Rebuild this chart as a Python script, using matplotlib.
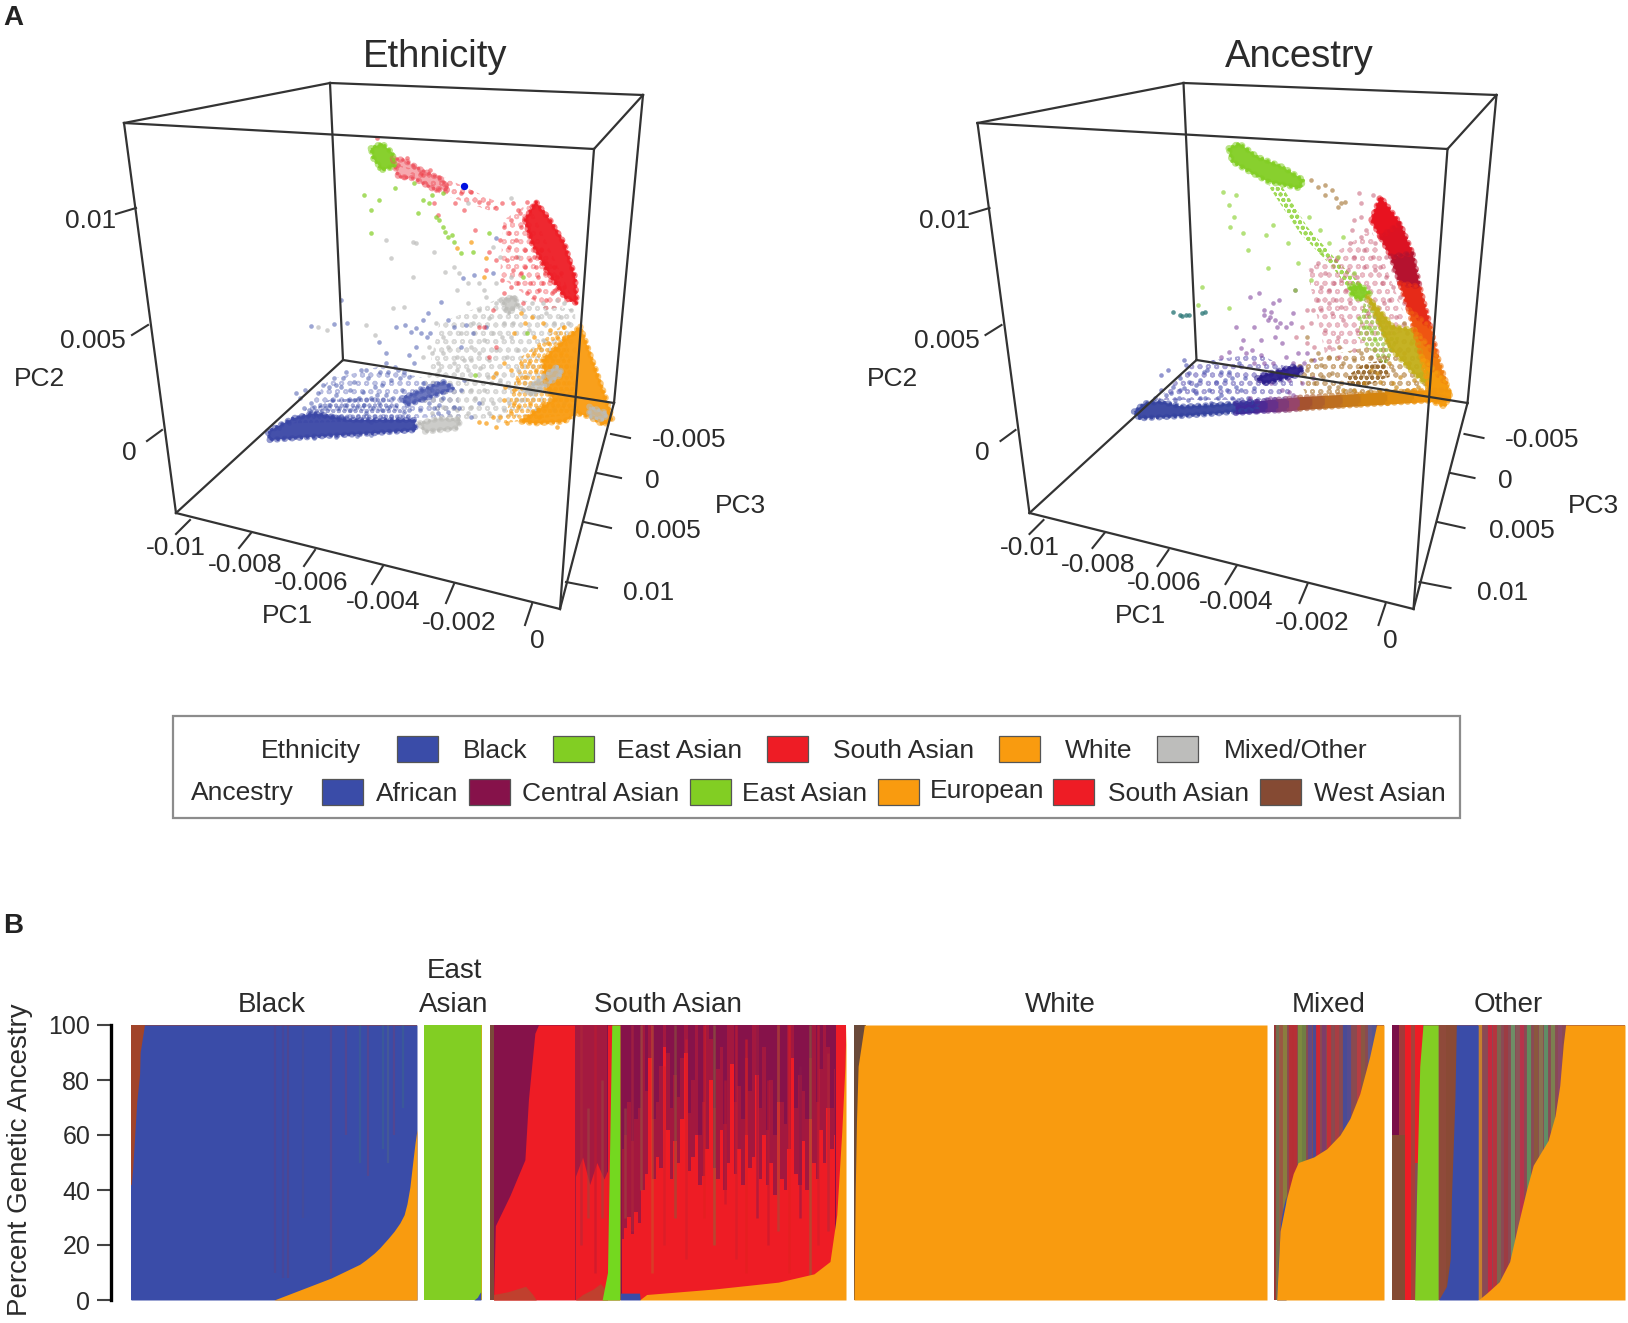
#!/usr/bin/env python
import numpy as np
import matplotlib
matplotlib.use('Agg')
import matplotlib.pyplot as plt
from matplotlib.patches import Rectangle

plt.rcParams['font.family'] = ['Liberation Sans', 'DejaVu Sans']
plt.rcParams['hatch.linewidth'] = 1.3

BLUE = '#3A4CA8'; MAROON = '#86124A'; GREEN = '#82CE23'
ORANGE = '#F99B0F'; RED = '#EE1C25'; BROWN = '#854A33'; GRAY = '#BDBDBB'
TXT = '#2b2b2b'; LINE = '#333333'
FS = 19

# ---- panel A, box and ticks (picture pixels of the left panel)
box_x = dict(A=124, B=330, C=643, D=594, E=176, F=343, G=614, H=560)
box_y = dict(A=123, B=83, C=95, D=149, E=513, F=360, G=403, H=609)
box_edges = ['AB', 'BC', 'CD', 'DA', 'AE', 'BF', 'CG', 'DH', 'EF', 'FG', 'GH', 'HE']

pc1_ticks = [(190, 520, 176, 534), (251, 533, 239, 548), (315, 550, 304, 566),
             (383, 566, 372, 584), (454, 584, 446, 603), (532, 604, 525, 625)]
pc1_labels = ['-0.01', '-0.008', '-0.006', '-0.004', '-0.002', '0']
pc1_lab_x = [176, 245, 311, 383, 459, 537]
pc1_lab_y = [548, 565, 583, 602, 623, 641]
pc2_ticks = [(136, 208, 116, 214), (148, 325, 132, 335), (162, 430, 147, 441)]
pc2_labels = ['0.01', '0.005', '0']
pc2_lab_x = [91, 93, 129]
pc2_lab_y = [221, 341, 453]
pc3_ticks = [(611, 434, 630, 438), (597, 473, 621, 478), (584, 522, 611, 528), (566, 582, 597, 588)]
pc3_labels = ['-0.005', '0', '0.005', '0.01']
pc3_lab_x = [689, 652, 668, 649]
pc3_lab_y = [440, 481, 531, 593]

# ---- ethnicity cloud (projected plot position)
eth_blue_mass = [(470, 1085), (540, 1045), (600, 1030), (700, 1050), (880, 1050), (885, 1080),
                 (760, 1090), (600, 1100), (475, 1110)]
eth_blue_streak = [(845, 985), (960, 935), (990, 955), (940, 975), (860, 1005)]
eth_red_mass = [(1190, 450), (1220, 395), (1260, 450), (1300, 520), (1330, 620), (1335, 700),
                (1300, 680), (1250, 600), (1210, 520)]
eth_red_haze = [(820, 265), (850, 270), (900, 300), (960, 330), (975, 360), (930, 355), (880, 325), (835, 320)]
eth_green_mass = [(758, 235), (790, 220), (820, 250), (825, 290), (790, 300), (765, 265)]
eth_orange_mass = [(1345, 770), (1375, 860), (1415, 980), (1435, 1045), (1410, 1065), (1370, 1040),
                   (1335, 1030), (1300, 1055), (1220, 1060), (1180, 1055), (1210, 1030), (1270, 990),
                   (1250, 950), (1240, 870), (1300, 810)]
eth_gray_masses = [[(1125, 690), (1160, 680), (1170, 705), (1145, 730)],
                   [(895, 1060), (950, 1045), (1010, 1050), (1000, 1075), (910, 1085)],
                   [(1370, 1010), (1420, 1030), (1410, 1050), (1370, 1040)],
                   [(1190, 960), (1280, 890), (1295, 910), (1210, 975)]]
# loosely filled parts of the cloud, drawn stippled
eth_hazes = [([(560, 1040), (640, 930), (780, 890), (1000, 950), (1010, 1040), (700, 1050)], '#5a66b8', 0.4, 'oo'),
             ([(540, 1060), (640, 990), (800, 980), (880, 1050)], '#3a46a6', 0.45, 'ooo'),
             ([(950, 760), (1130, 680), (1330, 720), (1340, 1030), (1000, 1050), (900, 1000)], GRAY, 0.55, 'oo'),
             ([(1130, 450), (1200, 400), (1330, 700), (1250, 720), (1120, 620)], RED, 0.3, 'oo'),
             ([(1130, 1060), (1180, 860), (1300, 760), (1340, 1030)], ORANGE, 0.55, 'ooo'),
             ([(835, 285), (960, 320), (1120, 400), (1100, 425), (950, 370)], RED, 0.35, 'oo')]
eth_blue = [(560, 985), (575, 960), (590, 1000), (610, 970), (625, 945), (640, 1005), (655, 925), (660, 975),
            (675, 950), (690, 905), (695, 990), (710, 935), (720, 1010), (730, 900), (735, 965), (750, 925),
            (760, 985), (770, 950), (785, 905), (790, 1020), (800, 975), (815, 930), (825, 890), (830, 1005),
            (845, 960), (855, 995), (865, 920), (880, 975), (895, 1020), (905, 940), (920, 1000), (930, 960),
            (945, 1030), (960, 985), (975, 945), (990, 1010), (1010, 960), (1020, 930), (1040, 1040), (1060, 1000),
            (590, 768), (655, 762), (675, 690), (692, 760), (780, 815), (800, 850), (830, 770), (855, 765),
            (870, 785), (885, 775), (900, 790), (915, 800), (905, 750), (918, 730), (925, 790), (885, 830),
            (865, 855), (955, 695), (975, 750), (990, 770), (1015, 625), (1048, 615), (1025, 765), (1045, 790),
            (1010, 830), (1080, 770), (1110, 505), (1100, 610), (880, 880), (800, 880), (835, 900),
            (500, 1075), (530, 1060), (560, 1040), (590, 1025), (620, 1030), (650, 1040), (680, 1045),
            (720, 1050), (760, 1055), (800, 1050), (840, 1050), (870, 1050), (600, 1105), (660, 1100),
            (720, 1098), (760, 1095), (550, 970), (600, 1010), (650, 990), (700, 1020), (745, 1030), (780, 1000),
            (570, 1015), (585, 1020), (615, 1005), (630, 1015), (670, 1015), (685, 1005), (710, 990), (725, 985),
            (740, 1005), (765, 1015), (775, 975), (810, 1010), (820, 985), (850, 1025), (865, 1020), (790, 945),
            (805, 905), (840, 925), (850, 905), (700, 960), (680, 925), (640, 950), (660, 945), (745, 900),
            (895, 955), (905, 985), (935, 1015), (950, 1005), (975, 1025), (1005, 1015)]
eth_gray = [(610, 772), (635, 780), (745, 765), (820, 715), (850, 710), (770, 795), (815, 565), (800, 510), (875, 515),
            (885, 520), (875, 620), (935, 545), (965, 605), (1005, 610), (990, 590), (1030, 400), (1150, 385),
            (1000, 660), (1030, 700), (940, 760), (960, 800), (905, 860), (930, 850), (960, 850), (990, 880),
            (1020, 870), (1040, 830), (1060, 850), (1090, 870), (1110, 840), (1000, 900), (950, 900), (1010, 790),
            (1060, 720), (1080, 680), (1110, 640), (1150, 620), (1170, 560), (1120, 560), (1100, 530), (1060, 640),
            (1130, 760), (1150, 800), (1170, 840), (1200, 780), (1210, 700), (1250, 730), (1290, 740), (1300, 700),
            (1320, 720), (1280, 690), (1240, 810), (1190, 920), (1230, 960), (1270, 900), (1050, 985), (1075, 960),
            (1100, 1000), (1130, 1020), (1180, 990), (1220, 1020), (1270, 1020), (1300, 1000), (1000, 1020),
            (1030, 1030), (960, 1010), (930, 1030), (1040, 870), (1075, 810), (1100, 790), (1140, 860), (1170, 900),
            (920, 830), (945, 880), (975, 830), (1000, 860), (1030, 900), (1065, 895), (1085, 920), (1120, 930),
            (1145, 950), (1040, 960), (1070, 1000), (1090, 1030), (1160, 680), (1185, 720), (1225, 740), (1240, 700),
            (1270, 760), (1310, 760), (1135, 720), (1110, 700), (1045, 760), (1090, 745), (1125, 800), (1155, 760),
            (1075, 660), (1030, 640), (1000, 1045), (1040, 1010), (1115, 1050), (1145, 1000)]
eth_red = [(775, 205), (835, 285), (860, 265), (880, 290), (850, 320), (900, 310), (925, 300), (950, 320), (970, 345),
           (940, 360), (905, 315), (1010, 370), (1040, 365), (1060, 395), (1085, 400), (1110, 415), (1125, 400),
           (995, 400), (1020, 420), (935, 400), (945, 435), (1155, 400), (1170, 420), (1195, 395), (1130, 470),
           (1150, 450), (1120, 510), (1165, 510), (1050, 480), (1090, 545), (1140, 570), (1165, 560), (1200, 490),
           (1180, 610), (1220, 590), (1190, 540), (1235, 540), (1250, 580), (1260, 630), (1230, 660), (1205, 640),
           (1170, 640), (1125, 630), (1100, 720), (1080, 600), (1060, 770), (1075, 770), (1130, 670), (1250, 690),
           (1280, 620), (1300, 650), (1110, 830), (1090, 860), (1215, 560), (1240, 640), (1265, 670), (1195, 670),
           (1145, 530), (1180, 470), (1205, 570), (1225, 620), (1190, 590), (1155, 600), (1215, 680), (1245, 610),
           (1275, 660), (1290, 610), (1175, 430), (1145, 490), (1110, 570), (1150, 650), (1185, 700), (1270, 590)]
eth_green = [(740, 375), (780, 390), (825, 355), (760, 420), (760, 490), (890, 430), (905, 390), (930, 375), (960, 370),
             (950, 450), (965, 485), (975, 500), (990, 515), (1010, 550), (1045, 545), (1090, 490), (1185, 620),
             (1195, 790), (1050, 915), (780, 295), (880, 340), (920, 400), (940, 440), (960, 470), (985, 495)]
eth_orange = [(1000, 535), (1040, 515), (1075, 620), (1080, 565), (1110, 910), (1100, 920), (1130, 880), (1160, 790),
              (1180, 730), (1210, 740), (1240, 760), (1160, 960), (1130, 990), (1150, 1030), (1110, 1070), (1080, 1060),
              (1180, 1050), (1230, 1040), (1280, 1070), (1200, 880), (1230, 830), (1180, 880), (1150, 900), (1260, 780),
              (1300, 770), (1260, 860), (1220, 900), (1200, 950), (1260, 960), (1290, 850), (1300, 800), (1280, 800),
              (1060, 1055), (1170, 1010), (1205, 1000), (1140, 1060), (1240, 1000), (1190, 760), (1215, 800), (1170, 930),
              (1135, 950), (1100, 1040), (1215, 850), (1255, 820), (1120, 1040), (1160, 1000), (1190, 920), (1225, 940)]
eth_dot = [(1018, 348)]

# ---- ancestry cloud
streak_left = [(1180, 450), (1205, 500), (1235, 560), (1260, 640), (1285, 720), (1300, 780), (1320, 860), (1340, 950)]
streak_right = [(1205, 380), (1260, 460), (1295, 550), (1315, 650), (1345, 770), (1365, 860), (1390, 940), (1400, 975)]
streak_colors = ['#e8121f', '#dc1222', '#b5122f', '#e62a18', '#ef5512', '#f07e0e', '#f59a0c']
anc_masses = [
    ([(515, 1025), (545, 1000), (590, 995), (650, 1010), (740, 1005), (860, 995), (860, 1018), (750, 1030),
      (620, 1040), (530, 1045)], '#34429f'),
    ([(780, 235), (810, 220), (860, 260), (930, 290), (990, 330), (980, 355), (890, 335), (830, 300), (790, 275)], GREEN),
    ([(1120, 650), (1150, 645), (1175, 670), (1150, 690), (1125, 675)], GREEN),
    ([(1170, 680), (1240, 770), (1300, 780), (1320, 860), (1340, 950), (1290, 900), (1230, 830)], '#c2ae18'),
    ([(860, 925), (880, 915), (960, 890), (990, 895), (975, 915), (880, 940)], '#2b1d8c'),
    ([(1340, 950), (1400, 975), (1385, 1010), (1330, 985)], '#f59a0c'),
]
anc_hazes = [([(890, 345), (930, 350), (960, 400), (1000, 470), (1090, 580), (1160, 650), (1130, 680), (1070, 590),
               (980, 490), (930, 410)], GREEN, 0.75, 'ooo'),
             ([(1000, 600), (1180, 480), (1290, 780), (1050, 850)], '#d06a80', 0.45, 'oo'),
             ([(960, 880), (1300, 800), (1340, 960), (1000, 985)], '#a8702a', 0.55, 'oo'),
             ([(1110, 920), (1160, 880), (1220, 870), (1230, 920), (1170, 945), (1115, 945)], '#8f5f22', 0.85, 'ooo'),
             ([(580, 990), (680, 880), (860, 850), (960, 900), (960, 990)], '#5a50b0', 0.5, 'oo'),
             ([(1160, 690), (1260, 800), (1220, 890), (1140, 800)], '#8fb830', 0.6, 'ooo')]
band_x = [800, 860, 890, 920, 950, 980, 1015, 1050, 1100, 1150, 1225, 1300, 1400]
band_top = [1000, 995, 991, 988, 985, 982, 980, 978, 975, 972, 967, 962, 960]
band_bot = [1030, 1025, 1023, 1022, 1020, 1017, 1014, 1012, 1008, 1005, 1000, 995, 990]
band_colors = ['#3f2a9a', '#4e2a94', '#66308a', '#7f3a78', '#96456a', '#a5522f', '#b0602a', '#bd6e20',
               '#c87a18', '#d4840f', '#e28e0e', '#f0950e']
anc_blue = [(590, 915), (610, 900), (655, 870), (605, 975), (625, 950), (645, 925), (670, 910), (640, 985), (680, 960),
            (700, 930), (720, 900), (735, 875), (665, 990), (700, 985), (725, 960), (745, 935), (760, 905), (730, 1000),
            (775, 960), (790, 985), (790, 925), (810, 880), (815, 960), (575, 985), (590, 960), (630, 990), (655, 955),
            (690, 945), (750, 985), (770, 930), (835, 985), (850, 955), (620, 970), (670, 935), (710, 905), (755, 950),
            (780, 905), (800, 950), (825, 925), (645, 960), (690, 970), (715, 985), (760, 975), (805, 990), (660, 885)]
anc_purple = [(760, 860), (800, 770), (820, 810), (830, 850), (850, 880), (870, 810), (880, 720), (895, 740), (910, 750),
              (925, 760), (940, 770), (905, 700), (865, 670), (920, 690), (960, 730), (850, 770), (880, 880), (900, 940),
              (930, 960), (950, 930), (960, 975), (870, 930), (840, 985), (895, 985), (990, 880), (965, 660), (840, 680),
              (1000, 850), (1020, 870), (930, 820), (910, 800), (960, 880), (880, 735), (900, 725), (890, 750),
              (780, 845), (815, 835), (845, 840), (870, 855), (905, 880), (925, 905), (985, 940), (1015, 925), (950, 965),
              (975, 850), (940, 860), (915, 770), (955, 760)]
anc_pink = [(1010, 600), (1030, 580), (1050, 610), (1060, 660), (1080, 690), (1040, 650), (1000, 720), (985, 770),
            (1010, 760), (1040, 720), (1070, 730), (1100, 750), (1085, 800), (1050, 780), (1020, 830), (1060, 830),
            (1090, 860), (1140, 780), (1170, 730), (1120, 700), (1130, 840), (1000, 820), (970, 800), (1080, 570),
            (1120, 520), (1130, 560), (1150, 500), (1160, 590), (1190, 600), (1210, 640), (1230, 690), (1250, 740),
            (1190, 520), (1200, 480), (1220, 560), (1240, 600), (1170, 650), (1145, 370), (1185, 375), (1150, 400),
            (1130, 450), (1165, 480), (1260, 680), (1220, 620), (1095, 630), (1115, 600), (1205, 590), (1185, 560),
            (1160, 540), (1140, 620), (1110, 660), (1075, 640), (1030, 690), (1015, 720), (1060, 700), (1095, 710),
            (1215, 700), (1240, 650), (1270, 700), (1255, 630), (1175, 700), (1150, 440), (1125, 480)]
anc_tan = [(1010, 330), (1030, 350), (1050, 345), (1050, 375), (1070, 360), (1080, 385), (1095, 400), (1085, 410),
           (1105, 395), (1000, 900), (1040, 885), (1070, 910), (1100, 880), (1060, 950), (1020, 940), (1130, 870),
           (1000, 800), (1090, 830), (1240, 770), (1270, 760), (1280, 790), (1060, 860), (1045, 920), (1085, 950),
           (1120, 960), (1150, 850), (1180, 860), (1215, 860), (1240, 900), (1010, 870), (1030, 850)]
anc_green = [(765, 365), (800, 375), (780, 405), (795, 440), (785, 470), (820, 490), (885, 495), (905, 465), (945, 520),
             (835, 540), (890, 595), (975, 580), (1010, 630), (965, 660), (705, 650), (695, 705), (780, 715), (1005, 440),
             (1180, 700), (1200, 750), (1180, 780), (1160, 720), (1215, 790), (1190, 810), (1035, 480), (1060, 520),
             (1085, 560), (1100, 500), (1130, 610), (1165, 770), (1145, 745), (1040, 545)]
anc_orange = [(1130, 960), (1160, 940), (1200, 960), (1240, 940), (1280, 960), (1230, 880), (1260, 920), (1300, 930),
              (1180, 900), (1270, 850), (1220, 960), (1100, 960), (1310, 860), (1290, 820), (1250, 950), (1170, 965),
              (1205, 935), (1285, 880), (1310, 950), (1195, 910)]
anc_teal = [(625, 725), (645, 735), (650, 738), (660, 735), (670, 735), (715, 725), (705, 730)]

# ---- panel B, upper curves of each ancestry, x is percent of the group
blk_blue_x = [0, 0.1, 0.6, 2, 3, 3.2, 4.7, 100]
blk_blue_y = [42, 42, 48, 72, 82, 90, 100, 100]
blk_or_x = [50, 55, 60, 65, 70, 75, 80, 82, 85, 87, 90, 92, 94, 95.5, 96.5, 97.5, 98.5, 99.3, 100]
blk_or_y = [0, 2, 4, 6, 8, 10.5, 13, 14.5, 17, 19, 22.5, 25, 28, 31, 35, 41, 50, 57, 62]
blk_st_x = [50.4, 53, 55, 60, 70, 75, 80, 83, 88, 90, 92, 95]
blk_st_y = [10, 8, 8, 30, 10, 60, 50, 45, 55, 50, 60, 70]
blk_st_c = ['#6a3a78', '#6a3a78', '#7a3a60', '#5a4a80', '#8a3a60', '#8a3a60', '#3a7a78', '#8a3a60',
            '#3a7a78', '#5a7a70', '#8a3a60', '#3a7a78']

ea_blue_x = [86, 92, 96, 98]
ea_blue_y = [0, 1, 2.5, 3]

sa_left_x = [1, 1.5, 5.6, 9.8, 10.8, 12.6, 13.6, 24, 24, 33, 33, 36.5, 36.5]
sa_left_y = [0, 27, 38, 51, 73, 97, 100, 100, 0, 0, 100, 100, 0]
sa_mid_mix_x = [24, 24, 33, 33]
sa_mid_mix_y = [0, 100, 100, 0]
sa_mid_red_x = [24, 26, 28, 30, 32, 33, 33]
sa_mid_red_y = [45, 52, 42, 50, 44, 47, 0]
# narrow samples after the green band: top of the red, top of the red-maroon blend
sa_strip_x = [37, 38, 39, 40, 41, 42, 43, 44, 45, 46, 47, 48, 49, 50, 51, 52, 53, 54, 55, 56, 57, 58, 59, 60, 61, 62,
              63, 64, 65, 66, 67, 68, 69, 70, 71, 72, 73, 74, 75, 76, 77, 78, 79, 80, 81, 82, 83, 84, 85, 86, 87, 88,
              89, 90, 91, 92, 93, 94, 95, 96, 97]
sa_strip_red = [22, 26, 30, 24, 32, 28, 40, 46, 88, 44, 52, 48, 92, 62, 44, 58, 50, 66, 90, 47, 52, 60, 42, 45, 55, 80, 48,
                44, 62, 40, 50, 86, 46, 55, 42, 60, 48, 52, 82, 44, 60, 42, 50, 38, 72, 44, 40, 55, 88, 46, 42, 58, 40,
                66, 50, 44, 62, 50, 70, 55, 60]
sa_strip_mix = [55, 60, 72, 58, 66, 70, 100, 76, 100, 66, 72, 85, 100, 90, 70, 82, 74, 88, 100, 68, 80, 100, 60, 72, 100, 95,
                70, 84, 92, 64, 100, 100, 72, 78, 66, 88, 76, 100, 100, 70, 92, 62, 80, 60, 100, 72, 64, 100, 100, 70, 82, 76, 66,
                88, 100, 72, 84, 100, 92, 70, 84]
sa_right_x = [97.3, 97.4, 100]
sa_right_y = [100, 100, 100]
sa_wa_x = [1, 5, 10, 12, 13, 24, 26, 29, 31, 33]
sa_wa_y = [2, 3, 5, 2, 0, 0, 2, 4, 6, 3]
sa_green_x = [31.5, 33, 34.2, 36.5, 36.5]
sa_green_y = [0, 10, 100, 100, 0]
sa_blue_x = [36.6, 42, 42.2]
sa_blue_y = [2.5, 2.5, 0]
sa_or_x = [42, 44, 63, 81, 91, 95.5, 97.4, 98.8, 99.7, 100]
sa_or_y = [0, 2, 4, 6.5, 9.5, 14, 31, 61, 85, 100]
sa_st_x = [25.5, 27.5, 29.5, 31.5, 38, 40, 42.5, 45.5, 49, 52, 55, 60, 63, 66, 69, 72, 75, 78, 81, 84, 87, 90, 92, 95]
sa_st_lo = [20, 30, 10, 30, 30, 25, 40, 10, 20, 30, 15, 30, 20, 35, 15, 10, 30, 20, 25, 10, 30, 5, 20, 25]
sa_st_hi = [100, 70, 100, 80, 70, 100, 100, 100, 85, 100, 95, 100, 100, 80, 100, 95, 100, 80, 100, 100, 85, 100, 100, 90]
sa_st_c = ['#b02a3a', '#9a4a40', '#c01a30', '#9a4a40', '#9a4a40', '#b02a3a', '#9a5a40', '#c8582a', '#d01f2c', '#8a5a3a',
           '#d01f2c', '#e0201f', '#8a6a3a', '#c01a30', '#d01f2c', '#e0201f', '#8a1a4a', '#c01a30', '#a0503a', '#e0201f',
           '#8a1a4a', '#8a6a3a', '#d01f2c', '#b02a3a']

wh_or_x = [0, 0.3, 0.6, 1, 2.5, 100]
wh_or_y = [0, 40, 65, 85, 100, 100]

mx_or_x = [2.4, 5.5, 11.5, 17.5, 22, 36, 48, 60, 69, 78, 87, 93, 93.5, 100]
mx_or_y = [0, 25, 37, 46, 50, 52, 55, 60, 66, 75, 88.5, 99.5, 100, 100]
mx_st_x = [1, 4, 6, 10, 15, 19, 24, 27, 33, 37.5, 40, 45, 50, 57, 65, 68, 77, 81, 87, 91]
mx_st_c = ['#a03030', '#6a7a50', '#a05a40', '#8a8a3a', '#c02a30', '#c02a30', '#7a9a3a', '#6a8a40', '#5a4a90', '#3a4ca8',
           '#e0202a', '#7a3a70', '#d02a30', '#b03a40', '#3a4ca8', '#4a4ca0', '#c03a40', '#8a5a40', '#5a5a98', '#4a5aa0']
mx_blue_x = [0, 2.4, 4, 6, 8, 11]
mx_blue_y = [0, 0, 15, 28, 33, 38]

ot_or_x = [37, 40.5, 46, 50.5, 54, 57.7, 60.6, 67, 70, 72, 73.5, 74.5, 100]
ot_or_y = [0, 2.4, 6.6, 14, 27, 40, 49, 58, 67, 78, 93, 100, 100]
ot_blue_x = [20, 23.4, 25, 25.5, 27, 27.6, 37, 37]
ot_blue_y = [0, 5, 15, 37, 73, 100, 100, 0]
ot_green_x = [9.7, 10.5, 11.9, 13.3, 19.8, 19.8]
ot_green_y = [0, 37, 85, 100, 100, 0]
ot_span_x0 = [0, 0, 2.8, 5.5, 8, 10, 20, 23, 37]
ot_span_x1 = [5.5, 2.8, 5.5, 8, 10, 13.5, 23, 28, 75]
ot_span_lo = [0, 60, 60, 0, 0, 50, 0, 0, 0]
ot_span_c = [BROWN, '#7a0f48', '#a23a3a', RED, '#a8403a', RED, '#8f4a3a', '#8a4a35', '#8a4a55']
ot_st_x = [37.7, 42, 44, 46, 49, 52, 54, 56, 59, 62, 64, 66, 69, 72]
ot_st_c = ['#d08a2a', '#d0243a', '#c0303a', '#7a6a50', '#a03a40', '#6a9a6a', '#8a5a5a', '#c0304a', '#5a9a60', '#8a5a3a',
           '#8a7a50', '#5a9a6a', '#7a8a50', '#8a4a6a']

leg1_labels = ['Black', 'East Asian', 'South Asian', 'White', 'Mixed/Other']
leg1_colors = [BLUE, GREEN, RED, ORANGE, GRAY]
leg2_labels = ['African', 'Central Asian', 'East Asian', 'European', 'South Asian', 'West Asian']
leg2_colors = [BLUE, MAROON, GREEN, ORANGE, RED, BROWN]


def pts(ax, xy, color, s=11, alpha=0.45):
    xy = np.array(xy)
    ax.scatter(xy[:, 0], xy[:, 1], s=s, c=color, alpha=alpha, linewidths=0)


def poly(ax, xy, color, alpha=0.95):
    xy = np.array(xy)
    ax.fill(xy[:, 0], xy[:, 1], fc=color, alpha=alpha, lw=0)
    # dotted rim so the edge reads as points, not an outline
    cx = np.r_[xy[:, 0], xy[0, 0]]
    cy = np.r_[xy[:, 1], xy[0, 1]]
    ax.plot(cx, cy, color=color, lw=4.5, alpha=0.55, ls=(0, (0.1, 1.1)), dash_capstyle='round')
    ax.plot(cx, cy, color=color, lw=2.5, alpha=0.9, ls=(0.5, (0.1, 1.6)), dash_capstyle='round')


def stipple(ax, xy, color, alpha, hatch):
    xy = np.array(xy)
    ax.fill(xy[:, 0], xy[:, 1], fc='none', ec=color, alpha=alpha, lw=0, hatch=hatch)


def full_axes(fig, zorder):
    ax = fig.add_axes([0, 0, 1, 1], zorder=zorder)
    ax.axis('off')
    ax.patch.set_visible(False)
    return ax


def draw_box(fig, dx, title, title_x):
    ax = full_axes(fig, 3)
    ax.set_xlim(-dx, 1628 - dx)
    ax.set_ylim(1323, 0)
    for e in box_edges:
        ax.plot([box_x[e[0]], box_x[e[1]]], [box_y[e[0]], box_y[e[1]]], color=LINE, lw=1.6)
    for t in pc1_ticks + pc2_ticks + pc3_ticks:
        ax.plot(t[0::2], t[1::2], color=LINE, lw=1.5)
    for labs, xs, ys in [(pc1_labels, pc1_lab_x, pc1_lab_y), (pc2_labels, pc2_lab_x, pc2_lab_y),
                         (pc3_labels, pc3_lab_x, pc3_lab_y)]:
        for s, x, y in zip(labs, xs, ys):
            ax.text(x, y, s, fontsize=FS, color=TXT, ha='center', va='center')
    ax.text(287, 616, 'PC1', fontsize=FS, color=TXT, ha='center', va='center')
    ax.text(39, 379, 'PC2', fontsize=FS, color=TXT, ha='center', va='center')
    ax.text(740, 506, 'PC3', fontsize=FS, color=TXT, ha='center', va='center')
    ax.text(title_x - dx, 57, title, fontsize=27.5, color=TXT, ha='center', va='center')


def cloud_axes(fig, dx):
    # units of the cloud lists: 2.8 per pixel across, 3 per pixel down
    ax = full_axes(fig, 2)
    ax.set_xlim((0 - 100 - dx) * 2.8, (1628 - 100 - dx) * 2.8)
    ax.set_ylim((1323 - 70) * 3, (0 - 70) * 3)
    return ax


def group_axes(fig, x0, x1, zorder=2):
    ax = fig.add_axes([x0 / 1628, 1 - 1300 / 1323, (x1 - x0) / 1628, 275 / 1323], zorder=zorder)
    ax.set_xlim(0, 100)
    ax.set_ylim(0, 100)
    ax.axis('off')
    return ax


def area(ax, x, y, color):
    ax.fill_between(x, 0, y, color=color, lw=0)


fig = plt.figure(figsize=(16.28, 13.23), dpi=100)

# ethnicity panel
c1 = cloud_axes(fig, 0)
for xy, col, al, h in eth_hazes:
    stipple(c1, xy, col, al, h)
pts(c1, eth_gray, GRAY, alpha=0.7)
pts(c1, eth_blue, BLUE, alpha=0.5)
pts(c1, eth_red, RED, alpha=0.5)
pts(c1, eth_green, GREEN, alpha=0.7)
pts(c1, eth_orange, ORANGE, alpha=0.7)
poly(c1, eth_blue_mass, '#3a46a6')
poly(c1, eth_blue_streak, '#4a58b0', alpha=0.8)
poly(c1, eth_red_haze, '#ee5560', alpha=0.5)
poly(c1, eth_red_mass, '#ee1c25')
poly(c1, eth_orange_mass, ORANGE)
for g in eth_gray_masses:
    poly(c1, g, '#bcbcb8', alpha=0.75)
poly(c1, eth_green_mass, GREEN)
pts(c1, eth_dot, '#0010e0', s=28, alpha=1)
draw_box(fig, 0, 'Ethnicity', 435)

# ancestry panel
c2 = cloud_axes(fig, 850)
for xy, col, al, h in anc_hazes:
    stipple(c2, xy, col, al, h)
pts(c2, anc_blue, '#4a50b0', alpha=0.6)
pts(c2, anc_purple, '#7a3a98', alpha=0.55)
pts(c2, anc_pink, '#c0506a', alpha=0.5)
pts(c2, anc_tan, '#a87a3a', alpha=0.65)
pts(c2, anc_green, GREEN, alpha=0.6)
pts(c2, anc_orange, '#c88a1e', alpha=0.7)
pts(c2, anc_teal, '#2f7a7a', alpha=0.8)
for xy, col in anc_masses:
    poly(c2, xy, col)
for i, col in enumerate(streak_colors):
    q = [streak_left[i], streak_right[i], streak_right[i + 1], streak_left[i + 1]]
    poly(c2, q, col, alpha=1)
for i, col in enumerate(band_colors):
    c2.fill_between(band_x[i:i + 2], band_top[i:i + 2], band_bot[i:i + 2], color=col, lw=1)
    c2.plot(band_x[i:i + 2], band_top[i:i + 2], color=col, lw=4, alpha=0.6, ls=(0, (0.1, 1.1)), dash_capstyle='round')
    c2.plot(band_x[i:i + 2], band_bot[i:i + 2], color=col, lw=4, alpha=0.6, ls=(0, (0.1, 1.1)), dash_capstyle='round')
draw_box(fig, 853.5, 'Ancestry', 1299.5)

# overlay for text and legend, in picture pixels
ov = full_axes(fig, 4)
ov.set_xlim(0, 1628)
ov.set_ylim(1323, 0)
ov.text(3, 18, 'A', fontsize=20, fontweight='bold', color='#222222', va='center')
ov.text(3, 926, 'B', fontsize=20, fontweight='bold', color='#222222', va='center')

ov.add_patch(Rectangle((173, 716), 1287, 102, fc='white', ec='#8c8c8c', lw=1.6))
ov.text(311, 751, 'Ethnicity', fontsize=FS, color=TXT, ha='center', va='center')
ov.text(242, 793, 'Ancestry', fontsize=FS, color=TXT, ha='center', va='center')
leg1_patch_x = [397, 553, 767, 999, 1157]
leg1_text_x = [495, 680, 904, 1099, 1296]
leg2_patch_x = [322, 469, 690, 878, 1053, 1260]
leg2_text_x = [417, 601, 805, 987, 1179, 1380]
for s, c, px, tx in zip(leg1_labels, leg1_colors, leg1_patch_x, leg1_text_x):
    ov.add_patch(Rectangle((px, 736), 41, 26, fc=c, ec='#555555', lw=0.9))
    ov.text(tx, 751, s, fontsize=FS, color=TXT, ha='center', va='center')
for s, c, px, tx in zip(leg2_labels, leg2_colors, leg2_patch_x, leg2_text_x):
    ov.add_patch(Rectangle((px, 779), 41, 26, fc=c, ec='#555555', lw=0.9))
    ov.text(tx, 791 if s == 'European' else 794, s, fontsize=FS, color=TXT, ha='center', va='center')

group_names = ['Black', 'South Asian', 'White', 'Mixed', 'Other']
group_x = [272, 668, 1060, 1329, 1508]
for s, x in zip(group_names, group_x):
    ov.text(x, 1005, s, fontsize=20, color=TXT, ha='center', va='center')
ov.text(454, 971, 'East', fontsize=20, color=TXT, ha='center', va='center')
ov.text(454, 1005, 'Asian', fontsize=20, color=TXT, ha='center', va='center')
ov.text(20, 1160, 'Percent Genetic Ancestry', fontsize=20, color=TXT, rotation=90, ha='center', va='center')

# panel B
ax = group_axes(fig, 131, 417)
ax.axis('on')
ax.patch.set_visible(False)
for sp in ['top', 'right', 'bottom']:
    ax.spines[sp].set_visible(False)
ax.spines['left'].set_position(('outward', 14.4))
ax.spines['left'].set_linewidth(2.4)
ax.spines['left'].set_bounds(0, 100)
ax.set_xticks([])
ax.set_yticks([0, 20, 40, 60, 80, 100])
ax.tick_params(axis='y', length=10, width=1.5, color='#444444', labelsize=18, labelcolor=TXT, pad=5)
ax.axvspan(0, 100, color='#a1442a', lw=0)
area(ax, blk_blue_x, blk_blue_y, BLUE)
ax.fill_between([0, 100], 0, 42, color=BLUE, lw=0)
ax.vlines(blk_st_x, blk_st_y, 100, colors=blk_st_c, lw=1.6, alpha=0.3, zorder=1)
area(ax, blk_or_x, blk_or_y, ORANGE)

ax = group_axes(fig, 424, 482)
ax.axvspan(0, 100, color=GREEN, lw=0)
area(ax, ea_blue_x, ea_blue_y, BLUE)
ax.axvspan(99, 100, color=ORANGE, alpha=0.5, lw=0)

ax = group_axes(fig, 490, 846)
ax.axvspan(0, 100, color=MAROON, lw=0)
area(ax, sa_left_x, sa_left_y, RED)
area(ax, sa_mid_mix_x, sa_mid_mix_y, '#a41a40')
area(ax, sa_mid_red_x, sa_mid_red_y, RED)
ax.fill_between(sa_strip_x, 0, sa_strip_mix, step='mid', color='#a3183f', lw=0)
ax.fill_between(sa_strip_x, 0, sa_strip_red, step='mid', color=RED, lw=0)
area(ax, sa_right_x, sa_right_y, RED)
ax.vlines(sa_st_x, sa_st_lo, sa_st_hi, colors=sa_st_c, lw=1.8, alpha=0.55, zorder=1)
ax.axvspan(0, 1, color='#7a4a3a', lw=0)
area(ax, sa_wa_x, sa_wa_y, '#c0402e')
area(ax, sa_green_x, sa_green_y, '#74d81f')
area(ax, sa_blue_x, sa_blue_y, BLUE)
area(ax, sa_or_x, sa_or_y, ORANGE)

ax = group_axes(fig, 854, 1267)
ax.axvspan(0, 3, color='#6a4a3a', lw=0)
area(ax, wh_or_x, wh_or_y, ORANGE)

ax = group_axes(fig, 1274, 1384)
ax.axvspan(0, 100, color='#8a4a50', lw=0)
ax.vlines(mx_st_x, 0, 100, colors=mx_st_c, lw=3, alpha=0.8, zorder=1)
area(ax, mx_blue_x, mx_blue_y, '#3a4ca8')
area(ax, mx_or_x, mx_or_y, ORANGE)

ax = group_axes(fig, 1392, 1625)
ax.axvspan(0, 100, color='#8a4a55', lw=0)
for a, b, lo, c in zip(ot_span_x0, ot_span_x1, ot_span_lo, ot_span_c):
    ax.fill_between([a, b], lo, 100, color=c, lw=0)
ax.vlines(ot_st_x, 0, 100, colors=ot_st_c, lw=3, alpha=0.85, zorder=1)
area(ax, ot_green_x, ot_green_y, GREEN)
area(ax, ot_blue_x, ot_blue_y, BLUE)
area(ax, ot_or_x, ot_or_y, ORANGE)

fig.savefig('out.png', dpi=100)
